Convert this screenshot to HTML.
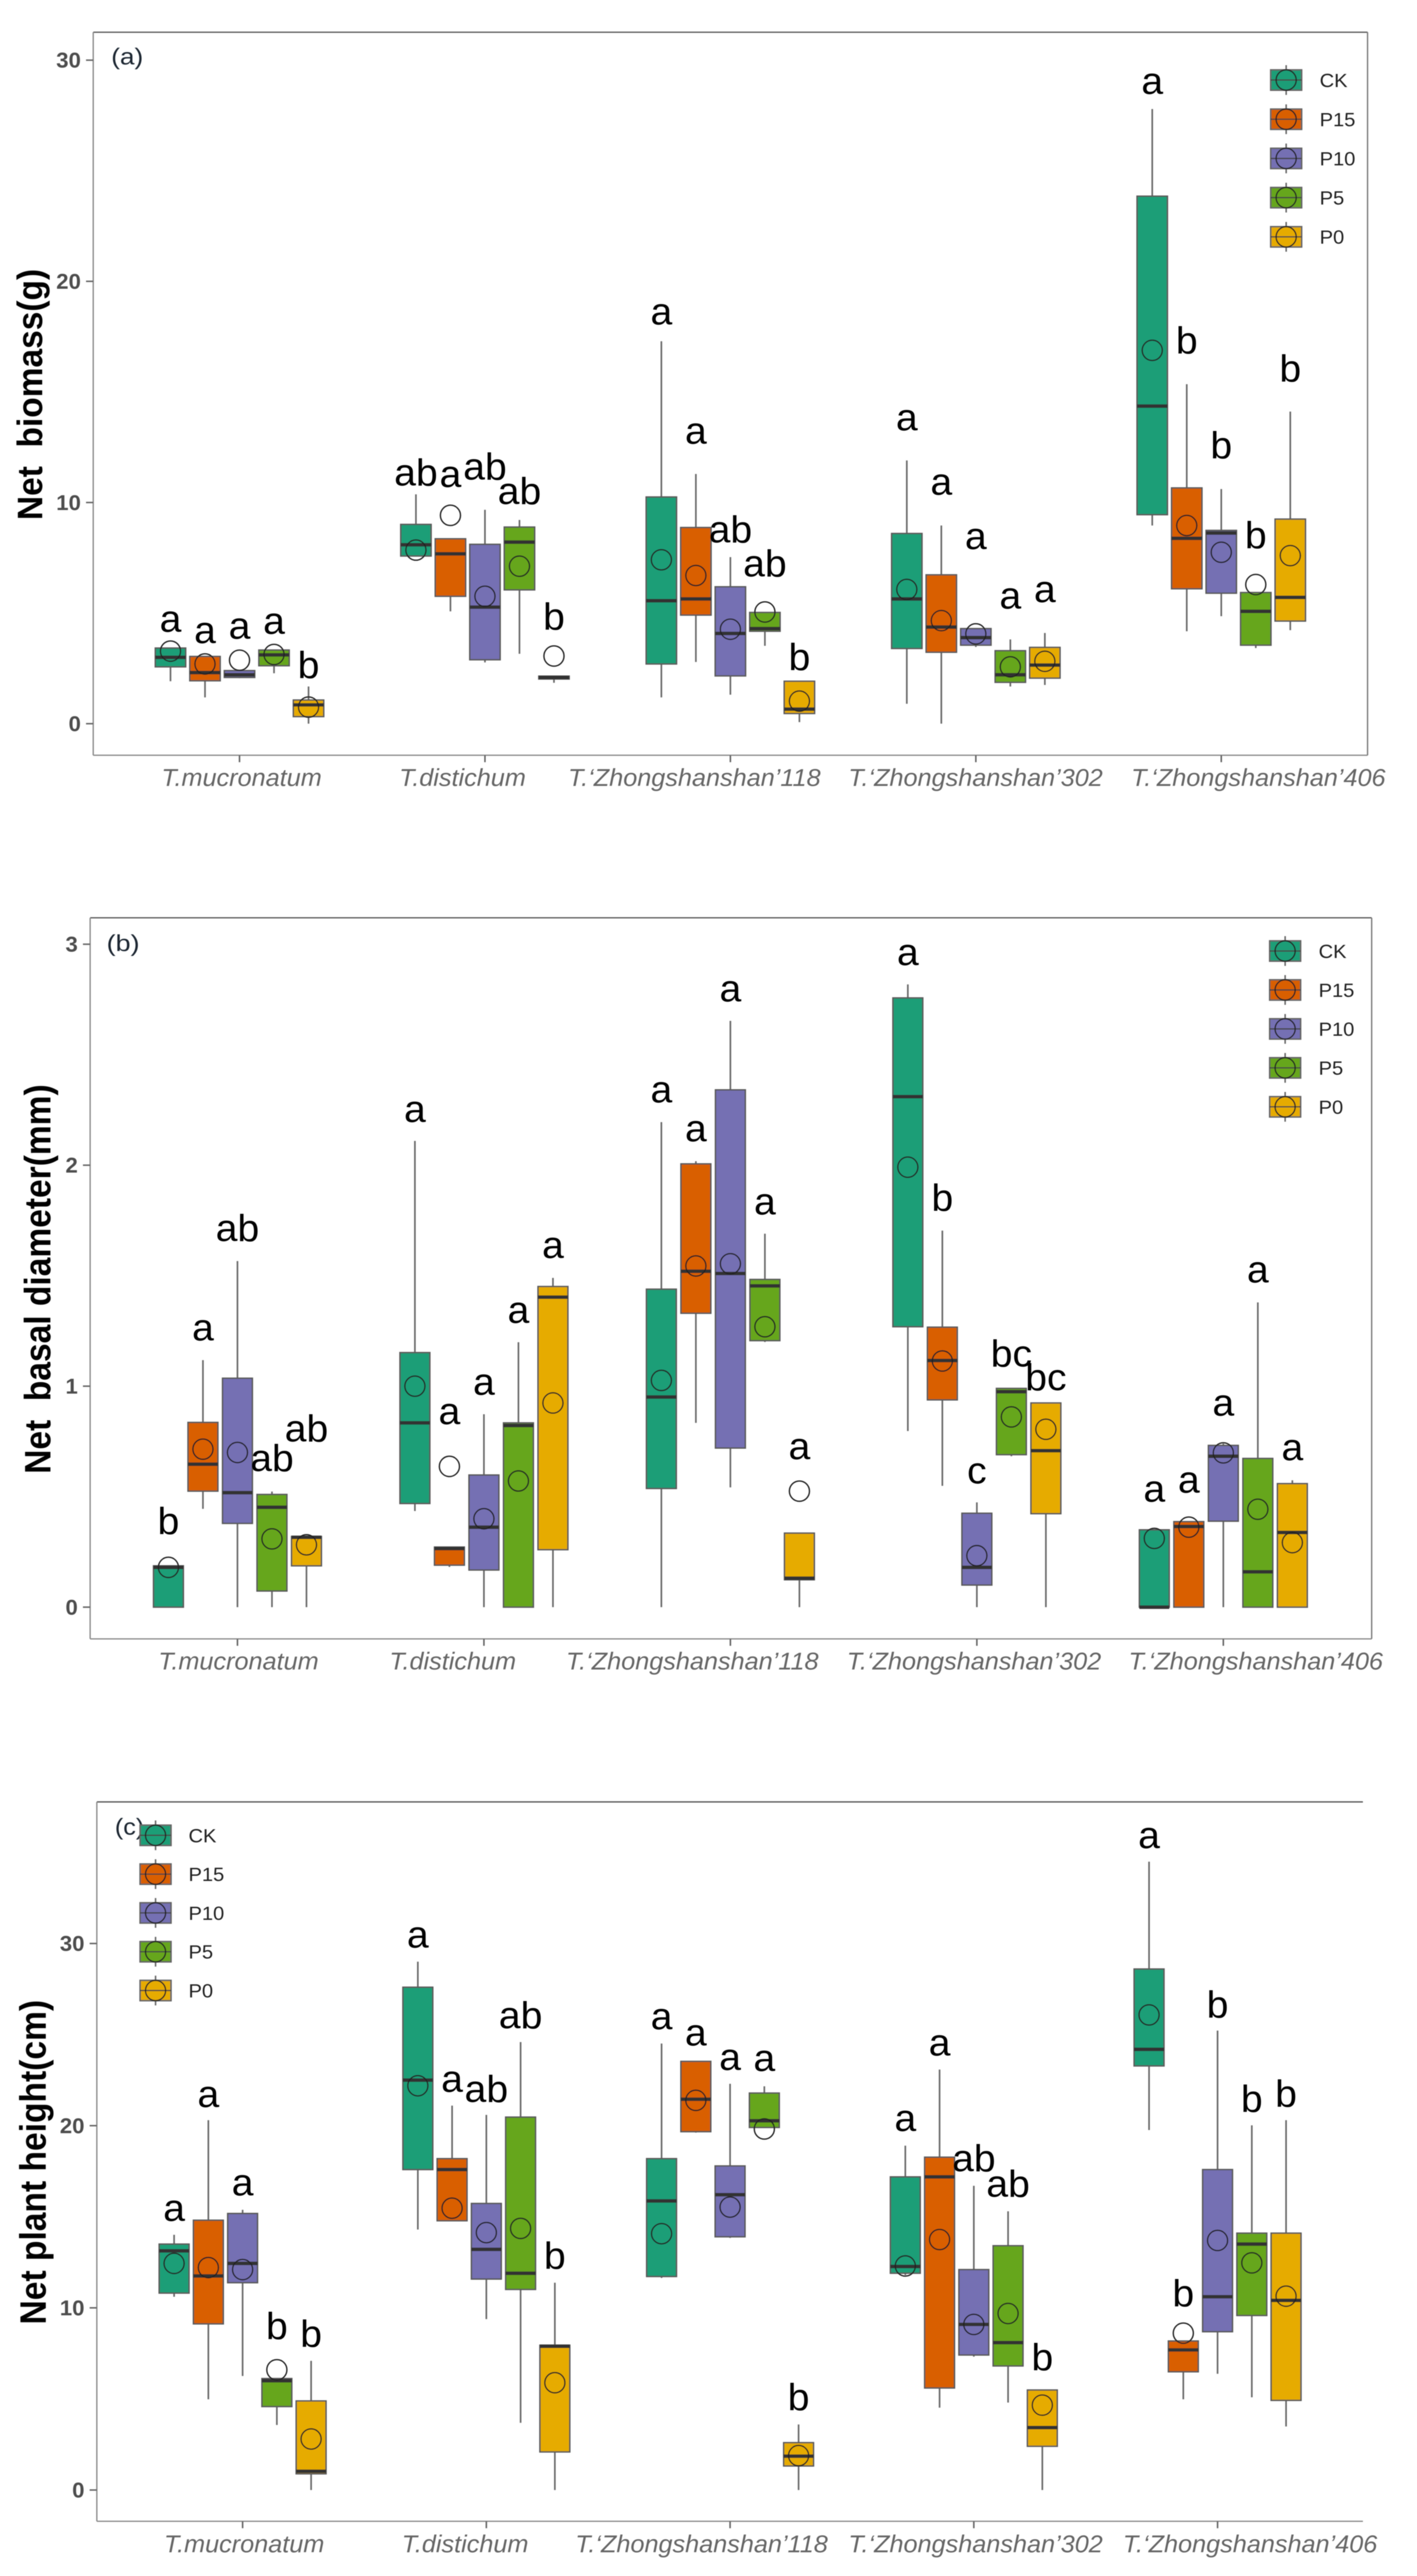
<!DOCTYPE html>
<html lang="en">
<head>
<meta charset="utf-8">
<title>Net biomass, basal diameter and plant height boxplots</title>
<style>
html,body{margin:0;padding:0;background:#fff;width:100%;height:100%;overflow:hidden;}
svg{display:block;width:100vw;height:100vh;}
text{font-family:"Liberation Sans",Arial,sans-serif;}
</style>
</head>
<body>
<svg id="figure" xmlns="http://www.w3.org/2000/svg" viewBox="0 0 2751 5198" preserveAspectRatio="none">
<defs><filter id="soften" filterUnits="userSpaceOnUse" x="0" y="0" width="2751" height="5198"><feGaussianBlur stdDeviation="0.7"/></filter></defs>
<g id="plot-root" filter="url(#soften)"></g>
</svg>
<script>
// ---------- shared categories ----------
const categories = ["T.mucronatum", "T.distichum", "T.‘Zhongshanshan’118", "T.‘Zhongshanshan’302", "T.‘Zhongshanshan’406"];
const treatments = ["CK", "P15", "P10", "P5", "P0"];

// ---------- panel (a) Net biomass: five rows = species, five columns = treatments ----------
const biomassTicks = [0, 10, 20, 30];
const biomassWhiskerLow = [
  1.92, 1.19, 2.06, 2.28, 0,
  7.58, 5.08, 2.77, 3.16, 1.85,
  1.19, 2.79, 1.31, 3.52, 0.07,
  0.9, 0, 3.47, 1.68, 1.75,
  8.96, 4.18, 4.86, 3.42, 4.23];
const biomassQ1 = [
  2.57, 1.94, 2.09, 2.62, 0.32,
  7.58, 5.76, 2.89, 6.05, 2.02,
  2.70, 4.91, 2.16, 4.18, 0.46,
  3.4, 3.23, 3.55, 1.87, 2.06,
  9.45, 6.10, 5.90, 3.55, 4.64];
const biomassMedian = [
  3.0, 2.31, 2.21, 3.11, 0.85,
  8.09, 7.68, 5.27, 8.21, 2.09,
  5.56, 5.64, 4.08, 4.30, 0.66,
  5.64, 4.37, 3.89, 2.21, 2.65,
  14.36, 8.38, 8.62, 5.08, 5.71];
const biomassQ3 = [
  3.42, 3.04, 2.40, 3.33, 1.07,
  9.01, 8.36, 8.11, 8.89, 2.15,
  10.25, 8.87, 6.19, 5.03, 1.92,
  8.6, 6.73, 4.30, 3.30, 3.45,
  23.85, 10.66, 8.74, 5.93, 9.25];
const biomassWhiskerHigh = [
  3.42, 3.04, 2.40, 3.33, 1.68,
  10.37, 8.36, 9.67, 9.21, 2.15,
  17.29, 11.29, 7.53, 5.03, 1.92,
  11.9, 8.96, 4.30, 3.81, 4.1,
  27.79, 15.35, 10.61, 5.93, 14.11];
const biomassMean = [
  3.28, 2.7, 2.87, 3.13, 0.75,
  7.85, 9.42, 5.76, 7.12, 3.06,
  7.41, 6.70, 4.27, 5.05, 1.02,
  6.07, 4.66, 4.06, 2.57, 2.82,
  16.88, 8.96, 7.75, 6.29, 7.60];
const biomassLetters = [
  "a", "a", "a", "a", "b",
  "ab", "a", "ab", "ab", "b",
  "a", "a", "ab", "ab", "b",
  "a", "a", "a", "a", "a",
  "a", "b", "b", "b", "b"];
const biomassLetterLevel = [
  4.15, 3.64, 3.84, 4.06, 2.06,
  10.76, 10.69, 11.03, 9.93, 4.25,
  18.05, 12.65, 8.19, 6.66, 2.43,
  13.26, 10.35, 7.89, 5.20, 5.49,
  28.47, 16.74, 12.0, 7.94, 15.47];

// ---------- panel (b) Net basal diameter ----------
const diameterTicks = [0, 1, 2, 3];
const diameterWhiskerLow = [
  0, 0.445, 0, 0, 0,
  0.435, 0.182, 0, 0, 0,
  0, 0.834, 0.542, 1.2, 0,
  0.797, 0.549, 0, 0.683, 0,
  0, 0, 0, 0, 0];
const diameterQ1 = [
  0, 0.525, 0.379, 0.073, 0.187,
  0.469, 0.19, 0.168, 0, 0.26,
  0.537, 1.33, 0.72, 1.206, 0.124,
  1.269, 0.938, 0.10, 0.69, 0.423,
  0, 0, 0.389, 0, 0];
const diameterMedian = [
  0.18, 0.647, 0.518, 0.452, 0.316,
  0.834, 0.265, 0.362, 0.822, 1.403,
  0.951, 1.52, 1.51, 1.454, 0.131,
  2.31, 1.116, 0.18, 0.975, 0.708,
  0, 0.365, 0.683, 0.16, 0.338];
const diameterQ3 = [
  0.187, 0.836, 1.036, 0.51, 0.32,
  1.152, 0.272, 0.598, 0.834, 1.451,
  1.439, 2.006, 2.341, 1.483, 0.335,
  2.757, 1.267, 0.425, 0.99, 0.924,
  0.35, 0.387, 0.732, 0.673, 0.559];
const diameterWhiskerHigh = [
  0.187, 1.118, 1.566, 0.523, 0.323,
  2.11, 0.272, 0.873, 1.199, 1.49,
  2.195, 2.018, 2.653, 1.69, 0.335,
  2.818, 1.704, 0.474, 0.99, 0.924,
  0.35, 0.387, 0.74, 1.379, 0.574];
const diameterMean = [
  0.18, 0.715, 0.70, 0.309, 0.282,
  1.0, 0.637, 0.40, 0.571, 0.924,
  1.026, 1.544, 1.554, 1.269, 0.525,
  1.991, 1.114, 0.233, 0.861, 0.805,
  0.311, 0.362, 0.698, 0.443, 0.292];
const diameterLetters = [
  "b", "a", "ab", "ab", "ab",
  "a", "a", "a", "a", "a",
  "a", "a", "a", "a", "a",
  "a", "b", "c", "bc", "bc",
  "a", "a", "a", "a", "a"];
const diameterLetterLevel = [
  0.331, 1.206, 1.656, 0.615, 0.749,
  2.195, 0.827, 0.96, 1.286, 1.58,
  2.283, 2.108, 2.74, 1.777, 0.669,
  2.905, 1.794, 0.559, 1.089, 0.982,
  0.477, 0.518, 0.866, 1.469, 0.664];

// ---------- panel (c) Net plant height ----------
const heightTicks = [0, 10, 20, 30];
const heightWhiskerLow = [
  10.61, 4.98, 6.26, 3.57, 0,
  14.3, 14.78, 9.38, 3.69, 0,
  11.64, 19.62, 13.84, 19.9, 0,
  11.8, 4.52, 7.32, 4.8, 0,
  19.76, 4.98, 6.38, 5.09, 3.49];
const heightQ1 = [
  10.81, 9.12, 11.38, 4.58, 0.89,
  17.59, 14.78, 11.58, 11.01, 2.09,
  11.72, 19.67, 13.9, 19.9, 1.32,
  11.9, 5.6, 7.41, 6.81, 2.4,
  23.28, 6.49, 8.69, 9.58, 4.92];
const heightMedian = [
  13.13, 11.75, 12.44, 6.0, 1.03,
  22.5, 17.59, 13.21, 11.9, 7.89,
  15.87, 21.45, 16.21, 20.27, 1.86,
  12.27, 17.19, 9.09, 8.09, 3.43,
  24.19, 7.69, 10.61, 13.5, 10.41];
const heightQ3 = [
  13.5, 14.81, 15.18, 6.12, 4.89,
  27.6, 18.19, 15.73, 20.47, 7.95,
  18.19, 23.53, 17.79, 21.79, 2.6,
  17.19, 18.27, 12.1, 13.41, 5.49,
  28.6, 8.18, 17.59, 14.1, 14.1];
const heightWhiskerHigh = [
  14.01, 20.3, 15.38, 6.12, 7.09,
  29.0, 21.1, 20.59, 24.59, 11.38,
  24.51, 23.53, 22.3, 22.16, 3.6,
  18.9, 23.08, 16.7, 15.3, 5.49,
  34.49, 8.18, 25.22, 20.02, 20.3];
const heightMean = [
  12.44, 12.21, 12.1, 6.6, 2.8,
  22.19, 15.47, 14.13, 14.36, 5.89,
  14.07, 21.39, 15.53, 19.82, 1.89,
  12.3, 13.75, 9.09, 9.69, 4.66,
  26.08, 8.61, 13.7, 12.47, 10.64];
const heightLetters = [
  "a", "a", "a", "b", "b",
  "a", "a", "ab", "ab", "b",
  "a", "a", "a", "a", "b",
  "a", "a", "ab", "ab", "b",
  "a", "b", "b", "b", "b"];
const heightLetterLevel = [
  14.76, 21.02, 16.16, 8.29, 7.86,
  29.77, 21.85, 21.3, 25.34, 12.15,
  25.28, 24.39, 23.05, 22.99, 4.38,
  19.7, 23.85, 17.5, 16.1, 6.58,
  35.23, 10.09, 25.94, 20.76, 21.05];

// ---------- styling and layout (not data) ----------
const NS = "http://www.w3.org/2000/svg";
const palette = ["#1B9E77", "#D95F02", "#7570B3", "#66A61E", "#E6AB02"];
const figure = document.getElementById("plot-root");

const panelSpecs = [
  { id: "a", tag: "(a)", title: "Net  biomass(g)", ticks: biomassTicks,
    low: biomassWhiskerLow, q1: biomassQ1, med: biomassMedian, q3: biomassQ3, high: biomassWhiskerHigh, mean: biomassMean,
    letters: biomassLetters, letterLevel: biomassLetterLevel,
    layout: { left: 181, right: 2655, top: 65, bottom: 1524, rightBorder: true, zeroY: 1460.3, pxPerUnit: 44.63,
      groupStart: 465, groupStep: 476.5, dodge: 67, boxWidth: 59,
      xLabelBase: 1586, xLabelCentres: [469, 898, 1348, 1894, 2443],
      titleX: 82, titleY: 796, titleLen: 507, titleSize: 65,
      tagX: 216, tagY: 130, tagLen: 62,
      legendX: 2497, legendY: 161.5, legendStep: 79.1, legendTextX: 2562 } },
  { id: "b", tag: "(b)", title: "Net  basal diameter(mm)", ticks: diameterTicks,
    low: diameterWhiskerLow, q1: diameterQ1, med: diameterMedian, q3: diameterQ3, high: diameterWhiskerHigh, mean: diameterMean,
    letters: diameterLetters, letterLevel: diameterLetterLevel,
    layout: { left: 175, right: 2663, top: 1852, bottom: 3307, rightBorder: true, zeroY: 3243, pxPerUnit: 445.9,
      groupStart: 461, groupStep: 478.5, dodge: 67, boxWidth: 58,
      xLabelBase: 3369, xLabelCentres: [463, 879, 1344, 1891, 2438],
      titleX: 98, titleY: 2581, titleLen: 786, titleSize: 67,
      tagX: 207, tagY: 1919, tagLen: 64,
      legendX: 2495, legendY: 1919, legendStep: 78.6, legendTextX: 2560 } },
  { id: "c", tag: "(c)", title: "Net plant height(cm)", ticks: heightTicks,
    low: heightWhiskerLow, q1: heightQ1, med: heightMedian, q3: heightQ3, high: heightWhiskerHigh, mean: heightMean,
    letters: heightLetters, letterLevel: heightLetterLevel,
    layout: { left: 188, right: 2646, top: 3636, bottom: 5087.6, rightBorder: false, zeroY: 5024.5, pxPerUnit: 36.76,
      groupStart: 471, groupStep: 473.2, dodge: 66.5, boxWidth: 58,
      xLabelBase: 5150, xLabelCentres: [474, 903, 1362, 1894, 2427],
      titleX: 89, titleY: 4363, titleLen: 655, titleSize: 67,
      tagX: 223, tagY: 3702, tagLen: 57,
      legendX: 302, legendY: 3703.4, legendStep: 78.3, legendTextX: 366 } }
];

function svgEl(parent, tag, attrs) {
  const el = document.createElementNS(NS, tag);
  for (const k in attrs) el.setAttribute(k, attrs[k]);
  parent.appendChild(el);
  return el;
}

function drawPanel(p) {
  const L = p.layout;
  const yScale = v => L.zeroY - v * L.pxPerUnit;
  const groupX = g => L.groupStart + g * L.groupStep;
  const boxX = (g, t) => groupX(g) + (t - 2) * L.dodge;

  const panel = svgEl(figure, "g", {});
  
  

  // frame
  const frameTop = svgEl(panel, "line", { x1: L.left, x2: L.right, y1: L.top, y2: L.top, stroke: "#555", "stroke-width": 2.5 });
  
  
  const frameLeft = svgEl(panel, "line", { x1: L.left, x2: L.left, y1: L.top, y2: L.bottom, stroke: "#888", "stroke-width": 2.5 });
  
  
  const frameBottom = svgEl(panel, "line", { x1: L.left, x2: L.right, y1: L.bottom, y2: L.bottom, stroke: "#888", "stroke-width": 2.5 });
  
  
  if (L.rightBorder) {
    const frameRight = svgEl(panel, "line", { x1: L.right, x2: L.right, y1: L.top, y2: L.bottom, stroke: "#777", "stroke-width": 2.5 });
    
    
  }

  // y ticks
  p.ticks.forEach(v => {
    const tick = svgEl(panel, "line", { x1: L.left - 14, x2: L.left, y1: yScale(v), y2: yScale(v), stroke: "#666", "stroke-width": 3 });
    
    
    const label = svgEl(panel, "text", { x: L.left - 24, y: yScale(v) + 15, "text-anchor": "end", "font-size": 43, "font-weight": "bold", fill: "#4d4d4d" });
    label.textContent = v;
    
    
  });

  // y title
  const yTitle = svgEl(panel, "text", { transform: "translate(" + L.titleX + "," + L.titleY + ") scale(1.06,1) rotate(-90)", "text-anchor": "middle", "font-size": L.titleSize, "font-weight": "bold", fill: "#000", textLength: L.titleLen, lengthAdjust: "spacingAndGlyphs" });
  yTitle.textContent = p.title;
  yTitle.style.whiteSpace = "pre";
  
  

  // x ticks and labels
  categories.forEach((name, g) => {
    const tick = svgEl(panel, "line", { x1: groupX(g), x2: groupX(g), y1: L.bottom, y2: L.bottom + 14, stroke: "#666", "stroke-width": 3 });
    
    
    const label = svgEl(panel, "text", { x: L.xLabelCentres[g], y: L.xLabelBase, "text-anchor": "middle", "font-size": 49, "font-style": "italic", fill: "#666" });
    label.textContent = name;
    
    
  });

  // panel tag
  const tag = svgEl(panel, "text", { x: L.tagX, y: L.tagY, "font-size": 46, fill: "#1c2733", textLength: L.tagLen, lengthAdjust: "spacingAndGlyphs" });
  tag.textContent = p.tag;
  
  

  // boxes
  categories.forEach((name, g) => {
    treatments.forEach((tr, t) => {
      const i = g * treatments.length + t;
      const x = boxX(g, t);
      const group = svgEl(panel, "g", {});
      
      

      const whisker = svgEl(group, "line", { x1: x, x2: x, y1: yScale(p.low[i]), y2: yScale(p.high[i]), stroke: "#6a6a6a", "stroke-width": 3.2 });
      
      

      const box = svgEl(group, "rect", { x: x - L.boxWidth / 2, y: yScale(p.q3[i]), width: L.boxWidth, height: Math.max(0, yScale(p.q1[i]) - yScale(p.q3[i])), fill: palette[t], stroke: "#5a5a5a", "stroke-width": 2.8 });
      
      

      const median = svgEl(group, "line", { x1: x - L.boxWidth / 2, x2: x + L.boxWidth / 2, y1: yScale(p.med[i]), y2: yScale(p.med[i]), stroke: "#333", "stroke-width": 7 });
      
      

      const mean = svgEl(group, "ellipse", { cx: x, cy: yScale(p.mean[i]), rx: 19.5, ry: 20.5, fill: "none", stroke: "#222", "stroke-width": 2.6 });
      
      

      const letter = svgEl(group, "text", { x: x, y: yScale(p.letterLevel[i]), "text-anchor": "middle", "font-size": 76, fill: "#000" });
      letter.textContent = p.letters[i];
      
      
    });
  });

  // legend
  const legend = svgEl(panel, "g", {});
  
  
  treatments.forEach((tr, t) => {
    const cy = L.legendY + t * L.legendStep;
    const entry = svgEl(legend, "g", {});
    
    
    const keyWhisker = svgEl(entry, "line", { x1: L.legendX, x2: L.legendX, y1: cy - 30, y2: cy + 30, stroke: "#6a6a6a", "stroke-width": 3 });
    
    
    const keyBox = svgEl(entry, "rect", { x: L.legendX - 30, y: cy - 20.5, width: 60, height: 41, fill: palette[t], stroke: "#666", "stroke-width": 3 });
    
    
    const keyLine = svgEl(entry, "line", { x1: L.legendX - 30, x2: L.legendX + 30, y1: cy, y2: cy, stroke: "#444", "stroke-width": 2.5 });
    
    
    const keyCircle = svgEl(entry, "ellipse", { cx: L.legendX, cy: cy, rx: 19.5, ry: 20.5, fill: "none", stroke: "#222", "stroke-width": 2.6 });
    
    
    const keyText = svgEl(entry, "text", { x: L.legendTextX, y: cy + 14, "font-size": 39, fill: "#222" });
    keyText.textContent = tr;
    
    
  });
}

panelSpecs.forEach(drawPanel);
</script>
</body>
</html>
